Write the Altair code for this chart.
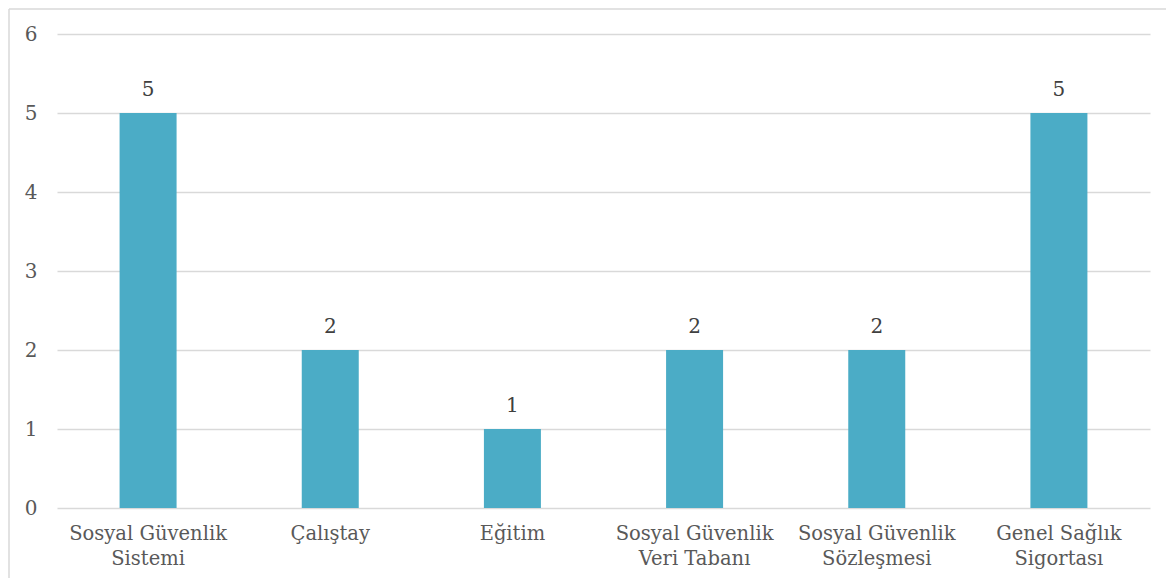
import altair as alt
import pandas as pd

categories = [
    "Sosyal Güvenlik\nSistemi",
    "Çalıştay",
    "Eğitim",
    "Sosyal Güvenlik\nVeri Tabanı",
    "Sosyal Güvenlik\nSözleşmesi",
    "Genel Sağlık\nSigortası",
]
values = [5, 2, 1, 2, 2, 5]

df = pd.DataFrame({"kategori": categories, "deger": values})

FONT = "DejaVu Serif"

base = alt.Chart(df)

bars = base.mark_bar(color="#4BACC6", width=57).encode(
    x=alt.X(
        "kategori:N",
        sort=None,
        title=None,
        axis=alt.Axis(
            labelAngle=0,
            labelExpr="split(datum.label, '\\n')",
            labelFont=FONT,
            labelFontSize=19.5,
            labelColor="#595959",
            labelLineHeight=25,
            labelPadding=16,
            ticks=False,
            domain=False,
            grid=False,
            labelBaseline="top",
        ),
    ),
    y=alt.Y(
        "deger:Q",
        title=None,
        scale=alt.Scale(domain=[0, 6], nice=False),
        axis=alt.Axis(
            values=[0, 1, 2, 3, 4, 5, 6],
            format="d",
            labelFont=FONT,
            labelFontSize=20,
            labelColor="#595959",
            labelPadding=20,
            ticks=False,
            domain=False,
            gridColor="#d9d9d9",
            gridWidth=1.3,
        ),
    ),
)

labels = base.mark_text(
    font=FONT, fontSize=20, color="#404040", baseline="bottom", dy=-13
).encode(
    x=alt.X("kategori:N", sort=None),
    y="deger:Q",
    text="deger:Q",
)

fr = alt.Chart(pd.DataFrame({"k": [0]}))
rule_style = dict(stroke="#d9d9d9", strokeWidth=1.5, clip=False)
top = fr.mark_rule(**rule_style).encode(x=alt.value(-48), x2=alt.value(1109), y=alt.value(-25))
left = fr.mark_rule(**rule_style).encode(x=alt.value(-48), y=alt.value(-25), y2=alt.value(544))

chart = (
    alt.layer(top, left, bars, labels)
    .properties(
        width=1093,
        height=474,
        autosize=alt.AutoSizeParams(type="none"),
        padding={"left": 49, "top": 26, "right": 16, "bottom": 70},
    )
    .configure(background="white", font=FONT)
    .configure_view(strokeWidth=0)
)

chart.save("out.html", embed_options={"renderer": "svg", "actions": False})
